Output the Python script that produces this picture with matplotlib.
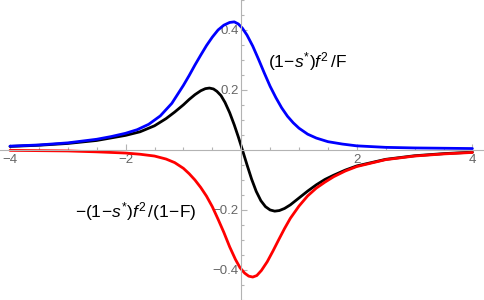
import numpy as np
import matplotlib
matplotlib.use("Agg")
from matplotlib import pyplot as plt

# Values
blue_x = [-4.0, -3.5, -3.0, -2.5, -2.25, -2.0, -1.8, -1.6, -1.4, -1.2, -1.0, -0.9, -0.8, -0.7, -0.6, -0.5,
          -0.4, -0.3, -0.2, -0.12, -0.05, 0.02, 0.1, 0.2, 0.3, 0.4, 0.5, 0.6, 0.7, 0.8, 0.9, 1.0, 1.15,
          1.3, 1.5, 1.75, 2.0, 2.5, 3.0, 3.5, 4.0]
blue_y = [0.012, 0.016, 0.023, 0.035, 0.044, 0.055, 0.067, 0.085, 0.113, 0.155, 0.215, 0.248, 0.283, 0.316,
          0.348, 0.376, 0.400, 0.416, 0.425, 0.427, 0.420, 0.406, 0.383, 0.346, 0.302, 0.256, 0.212, 0.174,
          0.140, 0.112, 0.090, 0.072, 0.052, 0.039, 0.027, 0.019, 0.013, 0.008, 0.006, 0.005, 0.004]

red_x = [-4.0, -3.5, -3.0, -2.5, -2.0, -1.75, -1.5, -1.3, -1.15, -1.0, -0.9, -0.8, -0.7, -0.6, -0.5, -0.4,
         -0.3, -0.2, -0.1, -0.02, 0.06, 0.13, 0.2, 0.27, 0.35, 0.45, 0.55, 0.65, 0.75, 0.85, 1.0, 1.15,
         1.3, 1.45, 1.6, 1.8, 2.0, 2.5, 3.0, 3.5, 4.0]
red_y = [-0.002, -0.003, -0.004, -0.007, -0.011, -0.015, -0.021, -0.031, -0.043, -0.062, -0.080, -0.101,
         -0.126, -0.155, -0.190, -0.232, -0.276, -0.324, -0.366, -0.394, -0.412, -0.422, -0.425, -0.420,
         -0.403, -0.374, -0.338, -0.300, -0.263, -0.229, -0.188, -0.154, -0.128, -0.108, -0.090, -0.071,
         -0.056, -0.033, -0.021, -0.014, -0.009]

black_x = [-4.0, -3.5, -3.0, -2.5, -2.0, -1.75, -1.5, -1.3, -1.15, -1.0, -0.9, -0.8, -0.7, -0.62, -0.55,
           -0.48, -0.42, -0.35, -0.28, -0.2, -0.12, -0.05, 0.02, 0.1, 0.18, 0.26, 0.34, 0.42, 0.5, 0.58,
           0.66, 0.75, 0.85, 1.0, 1.15, 1.3, 1.45, 1.6, 1.8, 2.0, 2.5, 3.0, 3.5, 4.0]
black_y = [0.011, 0.015, 0.021, 0.031, 0.048, 0.060, 0.080, 0.104, 0.126, 0.150, 0.168, 0.184, 0.197, 0.204,
           0.206, 0.203, 0.195, 0.181, 0.158, 0.124, 0.083, 0.043, 0.000, -0.050, -0.098, -0.139, -0.170,
           -0.190, -0.201, -0.205, -0.203, -0.196, -0.184, -0.161, -0.138, -0.117, -0.099, -0.085, -0.068,
           -0.054, -0.032, -0.020, -0.013, -0.008]

x_major = [-4, -2, 2, 4]
y_major = [-0.4, -0.2, 0.2, 0.4]

blue_label = r"$(1\!-\!s^{*})f^{2}\,/\mathrm{F}$"
red_label = r"$-(1\!-\!s^{*})f^{2}\,/(1\!-\!\mathrm{F})$"

plt.rcParams["font.family"] = ["Liberation Sans", "DejaVu Sans"]
plt.rcParams["mathtext.fontset"] = "custom"
plt.rcParams["mathtext.rm"] = "Liberation Sans"
plt.rcParams["mathtext.it"] = "Liberation Sans:italic"

fig = plt.figure(figsize=(4.84, 3.0), dpi=100)
ax = fig.add_axes([0, 0, 1, 1])

ax.plot(black_x, black_y, color="black", lw=2.0, solid_capstyle="round", solid_joinstyle="round")
ax.plot(blue_x, blue_y, color=(0, 0, 1), lw=2.0, solid_capstyle="round", solid_joinstyle="round")
ax.plot(red_x, red_y, color=(1, 0, 0), lw=2.0, solid_capstyle="round", solid_joinstyle="round")

ax.set_xlim(-241.2 / 57.8, (484 - 241.2) / 57.8)
ax.set_ylim(-150.5 / 300, 149.5 / 300)

# axes through the origin, Mathematica style
axis_col = "#b3b3b3"
for side in ["top", "right"]:
    ax.spines[side].set_visible(False)
for side in ["left", "bottom"]:
    ax.spines[side].set_position(("data", 0))
    ax.spines[side].set_color(axis_col)
    ax.spines[side].set_linewidth(0.8)
ax.patch.set_visible(False)

ax.set_xticks(x_major)
ax.set_xticks(np.arange(-4, 4.01, 0.5), minor=True)
ax.set_yticks(y_major)
ax.set_yticks(np.arange(-0.5, 0.501, 0.05), minor=True)
ax.set_xticklabels([f"{v:g}".replace("-", "\u2212") for v in x_major])
ax.set_yticklabels([f"{v:g}".replace("-", "\u2212") for v in y_major])
ax.tick_params(which="both", direction="in", color=axis_col, width=0.8, labelcolor="#666666", labelsize=9.5)
ax.tick_params(which="major", length=4)
ax.tick_params(which="minor", length=2.5)
ax.tick_params(axis="x", which="both", pad=3)
ax.tick_params(axis="y", which="both", pad=2)

ax.text(0.46, 0.295, blue_label, fontsize=12.5, ha="left", va="center")
ax.text(-2.87, -0.205, red_label, fontsize=12.5, ha="left", va="center")

fig.savefig("out.png", dpi=100)
